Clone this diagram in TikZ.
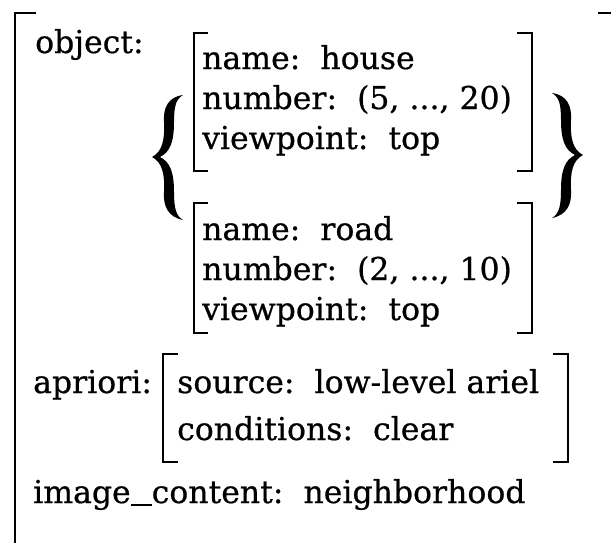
\documentclass[tikz,border=0pt]{standalone}
\usepackage{fontspec}
\setmainfont{DejaVu Serif}[FakeBold=0.6]
\newcommand\bracepath{(31,-62) .. controls (16,-60) and (11,-49) .. (12,-35) .. controls (13,-17) and (10,-5) .. (0,0) .. controls (10,5) and (13,17) .. (12,35) .. controls (11,49) and (16,60) .. (31,63) .. controls (24,59) and (22,51) .. (22,35) .. controls (22,15) and (18,5) .. (8,0) .. controls (18,-5) and (22,-15) .. (22,-35) .. controls (22,-51) and (24,-58) .. (31,-62) -- cycle}
\newcommand\uscore{\rule[-3pt]{21pt}{1.8pt}}
\begin{document}
\begin{tikzpicture}[x=1pt,y=-1pt,
  txt/.style={anchor=base west, inner sep=0pt, font=\fontsize{31.5}{40}\selectfont},
  brk/.style={line width=2pt, line cap=butt},
  outerbrk/.style={line width=2.6pt},
  bracefill/.style={fill=black}]
\useasboundingbox (0,0) rectangle (611,542);
% outer bracket
\draw[outerbrk] (36,13) -- (15,13) -- (15,545);
\draw[outerbrk] (598,13) -- (614,13);
% texts
\node[txt] (obj) at (35,53) {object:};
\node[txt] (h1) at (202,69) {name:\ \ house};
\node[txt] (h2) at (202,109) {number:\ \ (5, ..., 20)};
\node[txt] (h3) at (202,149) {viewpoint:\ \ top};
\node[txt] (r1) at (202,240) {name:\ \ road};
\node[txt] (r2) at (202,280) {number:\ \ (2, ..., 10)};
\node[txt] (r3) at (202,320) {viewpoint:\ \ top};
\node[txt] (apr) at (33,393) {apriori:};
\node[txt] (a1) at (177,393) {source:\ \ low-level ariel};
\node[txt] (a2) at (177,440) {conditions:\ \ clear};
\node[txt] (img) at (33,503) {image\uscore content:\ \ neighborhood};
% house bracket
\draw[brk] (208,33) -- (194,33) -- (194,171) -- (208,171);
\draw[brk] (517,33) -- (532,33) -- (532,171) -- (517,171);
% road bracket
\draw[brk] (208,203) -- (194,203) -- (194,333) -- (208,333);
\draw[brk] (517,203) -- (532,203) -- (532,333) -- (517,333);
% apriori bracket
\draw[brk] (178,354) -- (163,354) -- (163,462) -- (178,462);
\draw[brk] (553,354) -- (568,354) -- (568,462) -- (553,462);
% braces
\fill[bracefill, shift={(152,157)}] \bracepath;
\fill[bracefill, shift={(583,155)}, xscale=-1] \bracepath;
\end{tikzpicture}
\end{document}
